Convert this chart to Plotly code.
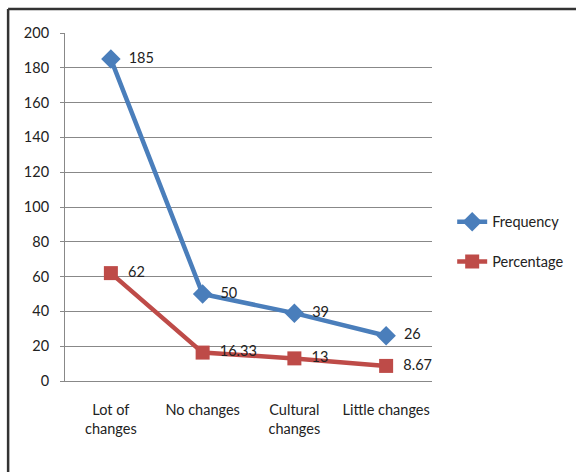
import plotly.graph_objects as go

categories = ["Lot of<br>changes", "No changes", "Cultural<br>changes", "Little changes"]
frequency = [185, 50, 39, 26]
percentage = [62, 16.33, 13, 8.67]
y_ticks = [0, 20, 40, 60, 80, 100, 120, 140, 160, 180, 200]

FONT = "Lato, 'Open Sans', sans-serif"
BLUE = "#4A7EBB"
RED = "#BE4B48"

fig = go.Figure()
fig.add_trace(go.Scatter(
    x=categories, y=frequency, name="Frequency", mode="lines+markers+text",
    line=dict(color=BLUE, width=4.5),
    marker=dict(symbol="diamond", size=15, color=BLUE),
    text=["  " + str(v) for v in frequency], textposition="middle right",
    textfont=dict(family=FONT, size=14.5, color="#222"),
    legendgroup="f",
))
fig.add_trace(go.Scatter(
    x=categories, y=percentage, name="Percentage", mode="lines+markers+text",
    line=dict(color=RED, width=4.5),
    marker=dict(symbol="square", size=14, color=RED),
    text=["  " + f"{v:g}" for v in percentage], textposition="middle right",
    textfont=dict(family=FONT, size=14.5, color="#222"),
    legendgroup="p",
))

fig.update_layout(
    width=576, height=472,
    margin=dict(l=65, r=144, t=33, b=91, autoexpand=False),
    paper_bgcolor="white", plot_bgcolor="white",
    font=dict(family=FONT, size=14.5, color="#222"),
    showlegend=True,
    legend=dict(x=1.055, y=0.40, xanchor="left", yanchor="middle",
                font=dict(family=FONT, size=14.5, color="#222"),
                tracegroupgap=18, bgcolor="rgba(0,0,0,0)", itemwidth=30),
    xaxis=dict(
        type="category", range=[-0.5, 3.5], showgrid=False,
        showline=True, linecolor="#888", linewidth=1,
        ticks="", tickfont=dict(family=FONT, size=14.5, color="#222"),
        ticklabelstandoff=16,
    ),
    yaxis=dict(
        range=[0, 200], tickvals=y_ticks, showgrid=True, gridcolor="#888", gridwidth=1,
        showline=True, linecolor="#888", linewidth=1,
        ticks="outside", ticklen=4, tickcolor="#888",
        tickfont=dict(family=FONT, size=14.5, color="#222"),
        ticklabelstandoff=8, zeroline=False,
    ),
    shapes=[
        dict(type="line", xref="paper", yref="paper",
             x0=-0.155, x1=1.5, y0=1.069, y1=1.069,
             line=dict(color="#333", width=2.5)),
        dict(type="line", xref="paper", yref="paper",
             x0=-0.155, x1=-0.155, y0=1.069, y1=-0.35,
             line=dict(color="#333", width=2.5)),
    ],
)

fig.write_html("out.html")
